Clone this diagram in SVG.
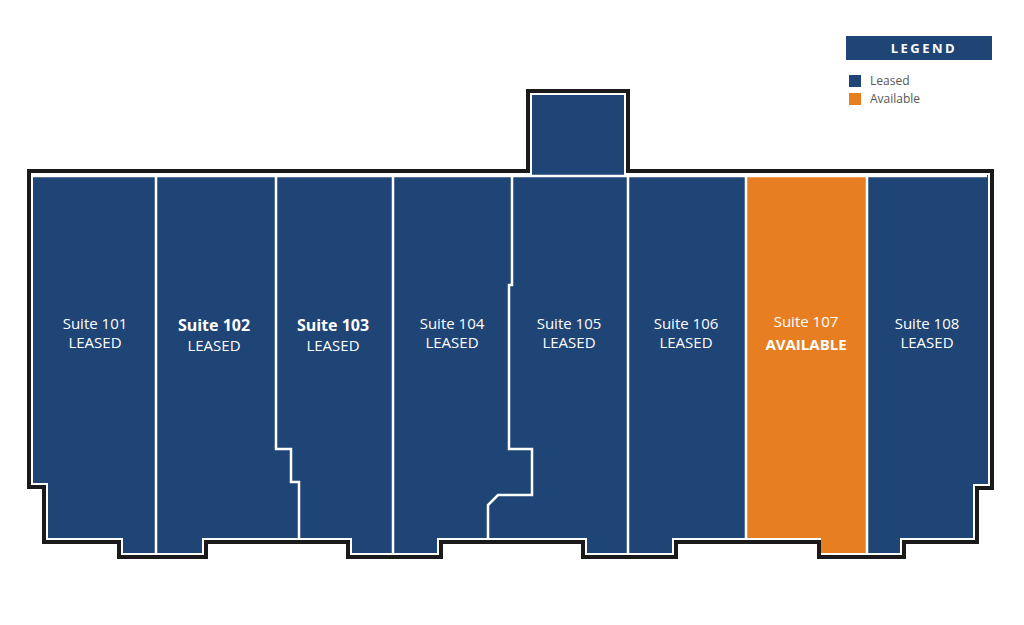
<svg xmlns="http://www.w3.org/2000/svg" width="1024" height="625" viewBox="0 0 1024 625">
<style>
.lbl{font-family:"Open Sans","Liberation Sans",sans-serif;fill:#fff;text-anchor:middle;font-size:15px}
.big{font-size:16px;font-weight:bold}
.div{stroke:#fff;stroke-width:2.5;fill:none}
.leg{font-family:"Open Sans","Liberation Sans",sans-serif;fill:#555;font-size:12px}
</style>
<rect width="1024" height="625" fill="#fff"/>
<path d="M29,171H528V91H628V171H992V488H977V542H904V557H819V542H676V557H583V542H441V557H348V542H206V557H119V542H44V487H29Z" fill="#fff" stroke="#1a1a1a" stroke-width="4"/>
<path d="M33,175H532V95H624V175H988V484H973V538H900V553H823V538H672V553H587V538H437V553H352V538H202V553H123V538H48V483H33Z" fill="#1f4476"/>
<path d="M746,175H867V553H821V538H746Z" fill="#e77f22"/>
<g id="dividers">
<path class="div" d="M33,176H987"/>
<path class="div" d="M156,175V553"/>
<path class="div" d="M276,175V449H291V482H299V538"/>
<path class="div" d="M393,175V553"/>
<path class="div" d="M512,175V285H509V449H532V495H498L488,505V538"/>
<path class="div" d="M628,175V553"/>
<path class="div" d="M746,175V538"/>
<path class="div" d="M867,175V553"/>
</g>
<g id="suite101"><text class="lbl" x="95" y="329">Suite 101</text><text class="lbl" x="95" y="348">LEASED</text></g>
<g id="suite102"><text class="lbl big" x="214" y="331">Suite 102</text><text class="lbl" x="214" y="351" font-size="16">LEASED</text></g>
<g id="suite103"><text class="lbl big" x="333" y="331">Suite 103</text><text class="lbl" x="333" y="351" font-size="16">LEASED</text></g>
<g id="suite104"><text class="lbl" x="452" y="329">Suite 104</text><text class="lbl" x="452" y="348">LEASED</text></g>
<g id="suite105"><text class="lbl" x="569" y="329">Suite 105</text><text class="lbl" x="569" y="348">LEASED</text></g>
<g id="suite106"><text class="lbl" x="686" y="329">Suite 106</text><text class="lbl" x="686" y="348">LEASED</text></g>
<g id="suite107"><text class="lbl" x="806" y="327" font-size="19">Suite 107</text><text class="lbl" x="806" y="350" font-size="17" font-weight="bold">AVAILABLE</text></g>
<g id="suite108"><text class="lbl" x="927" y="329">Suite 108</text><text class="lbl" x="927" y="348">LEASED</text></g>
<g id="legend">
<rect x="846" y="36" width="146" height="24" fill="#1f4476"/>
<text x="924" y="53" font-family="'Open Sans','Liberation Sans',sans-serif" font-size="13" font-weight="bold" fill="#fff" text-anchor="middle" letter-spacing="2.5">LEGEND</text>
<rect x="849" y="75" width="12" height="12" fill="#1f4476"/>
<text class="leg" x="870" y="85">Leased</text>
<rect x="849" y="93" width="12" height="12" fill="#e77f22"/>
<text class="leg" x="870" y="103">Available</text>
</g>
</svg>
